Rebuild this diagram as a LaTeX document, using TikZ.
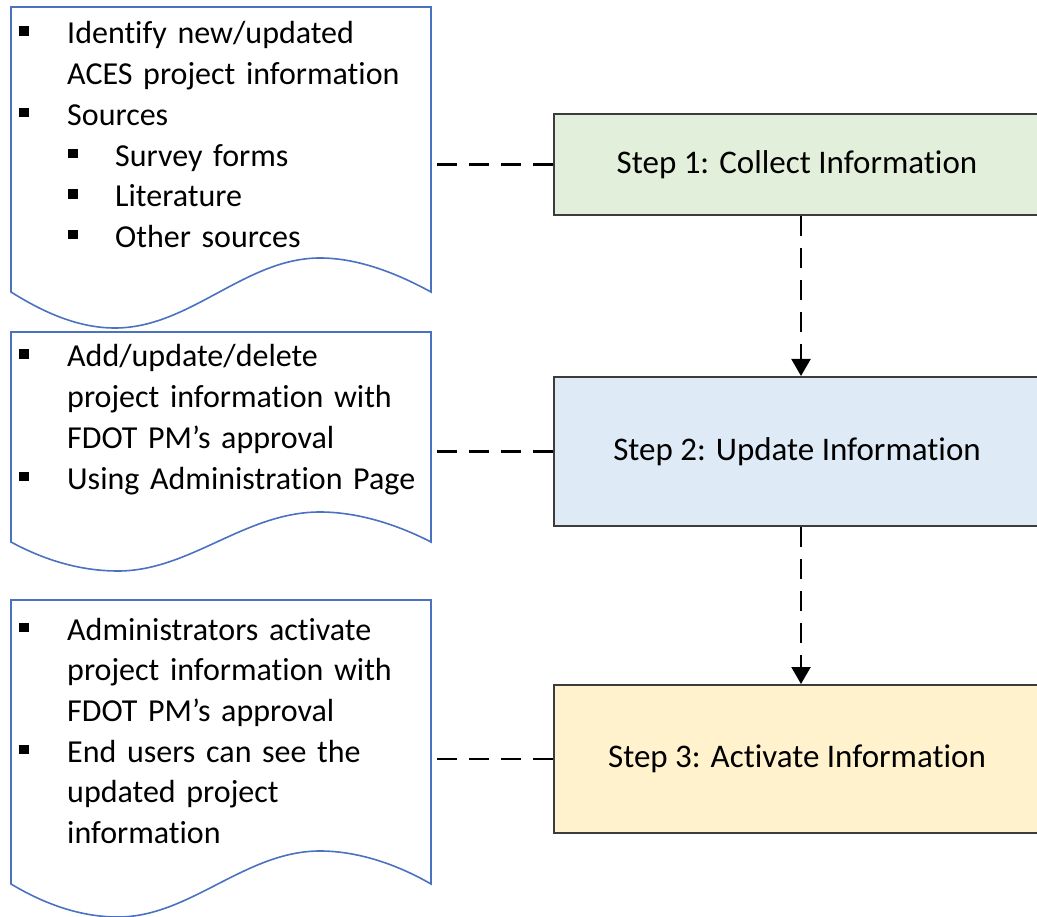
\documentclass[tikz,border=0pt]{standalone}
\usepackage{fontspec}
\setmainfont[Ligatures=NoCommon]{Carlito}
\usetikzlibrary{arrows.meta}

\definecolor{docblue}{HTML}{4A72C0}
\definecolor{boxline}{HTML}{3C3C3C}
\definecolor{fillgreen}{HTML}{E2EFDA}
\definecolor{fillblue}{HTML}{DEEBF7}
\definecolor{fillyellow}{HTML}{FFF2CC}

% square bullets and indents for the note texts
\newcommand\sqbul{\raisebox{8pt}{\rule{9.5pt}{9.5pt}}}
\newcommand\bulA{\makebox[48pt][l]{\sqbul}}
\newcommand\bulB{\hspace*{49pt}\makebox[47pt][l]{\sqbul}}
\newcommand\contA{\hspace*{48pt}}

\tikzset{
  docshape/.style={draw=docblue, line width=1.6pt, fill=white, line join=miter},
  doctext/.style={anchor=base west, inner sep=0pt, text width=420pt, align=left,
    font=\fontsize{32}{40.7}\selectfont},
  stepbox/.style={draw=boxline, line width=2pt, minimum width=486pt,
    inner sep=0pt, font=\fontsize{33}{38}\selectfont},
  dashline/.style={draw=black, line width=2.2pt, dash pattern=on 20pt off 12pt},
  tip/.style={-{Triangle[length=17pt,width=19pt]}}
}

\begin{document}
\begin{tikzpicture}[x=1pt,y=-1pt]
\useasboundingbox (0,0) rectangle (1037,917);

% document shapes with wavy bottoms
\draw[docshape] (11,7) -- (431,7) -- (431,292)
  .. controls (400,275) and (360,258) .. (320,258)
  .. controls (245,258) and (190,328) .. (115,328)
  .. controls (80,328) and (46,314) .. (11,292) -- cycle;
\draw[docshape] (11,332) -- (431,332) -- (431,542)
  .. controls (400,526) and (360,512) .. (320,512)
  .. controls (245,512) and (190,571) .. (118,571)
  .. controls (82,571) and (46,561) .. (11,542) -- cycle;
\draw[docshape] (11,600) -- (431,600) -- (431,884)
  .. controls (400,866) and (360,851) .. (320,851)
  .. controls (245,851) and (190,917) .. (118,917)
  .. controls (82,917) and (46,905) .. (11,884) -- cycle;

\coordinate (d1) at (431,164.5);
\coordinate (d2) at (431,451.5);
\coordinate (d3) at (431,759);

% note texts
\node[doctext] (t1) at (19,44) {\bulA Identify new/updated\par
  \contA ACES project information\par
  \bulA Sources\par
  \bulB Survey forms\par
  \bulB Literature\par
  \bulB Other sources};
\node[doctext] (t2) at (19,367) {\bulA Add/update/delete\par
  \contA project information with\par
  \contA FDOT PM’s approval\par
  \bulA Using Administration Page};
\node[doctext] (t3) at (19,640) {\bulA Administrators activate\par
  \contA project information with\par
  \contA FDOT PM’s approval\par
  \bulA End users can see the\par
  \contA updated project\par
  \contA information};

% process steps
\node[stepbox, fill=fillgreen, minimum height=101pt] (s1) at (797,164.5) {Step 1: Collect Information};
\node[stepbox, fill=fillblue, minimum height=149pt] (s2) at (797,451.5) {Step 2: Update Information};
\node[stepbox, fill=fillyellow, minimum height=148pt] (s3) at (797,759) {Step 3: Activate Information};

% connectors
\draw[dashline] (s1.west) -- (d1);
\draw[dashline] (s2.west) -- (d2);
\draw[dashline] (s3.west) -- (d3);
\draw[dashline, tip] ([xshift=4pt]s1.south) -- ([xshift=4pt]s2.north);
\draw[dashline, tip] ([xshift=4pt]s2.south) -- ([xshift=4pt]s3.north);
\end{tikzpicture}
\end{document}
